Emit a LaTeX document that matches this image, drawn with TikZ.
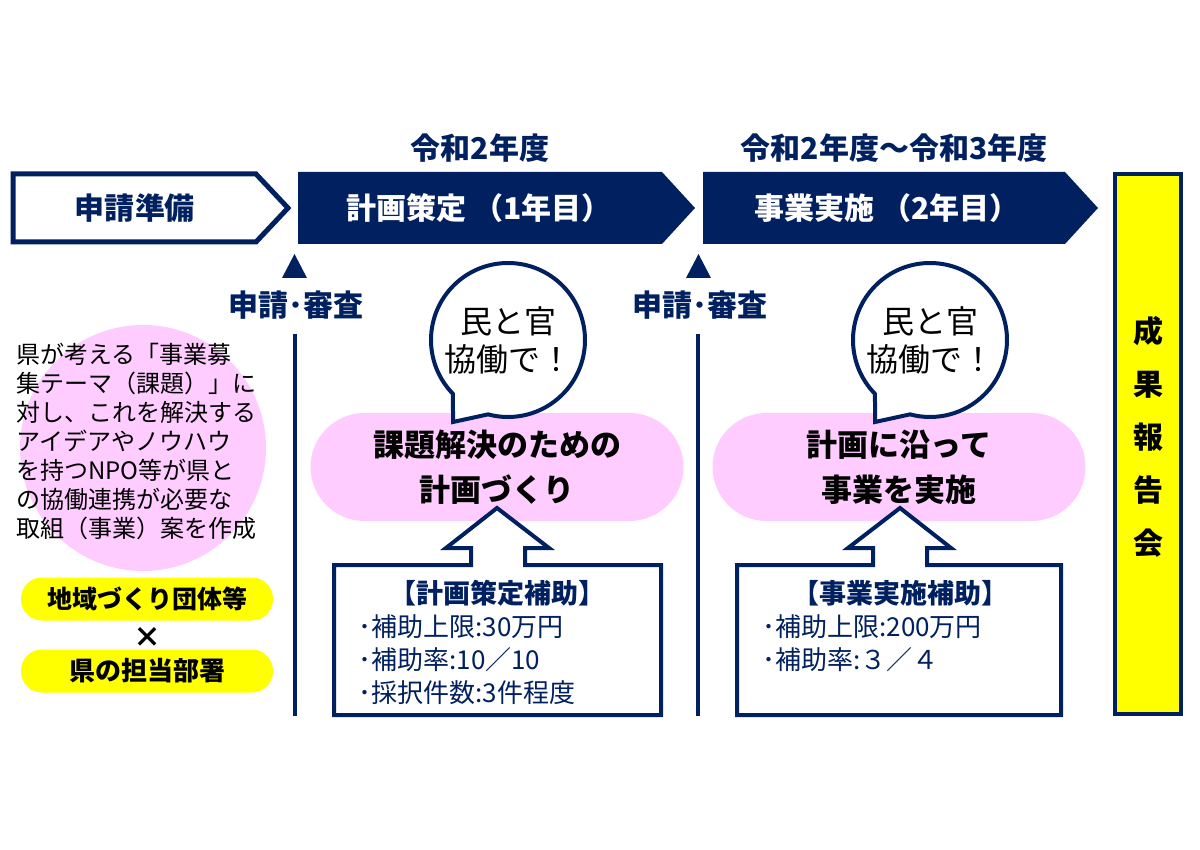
\documentclass[tikz,border=0pt]{standalone}
\usepackage{fontspec}
\setmainfont{Noto Sans CJK JP}
\usetikzlibrary{calc}
\definecolor{navy}{RGB}{0,32,96}
\definecolor{pinkfill}{RGB}{255,204,255}
\definecolor{signyellow}{RGB}{255,255,0}

\begin{document}
\begin{tikzpicture}[x=0.5pt, y=-0.5pt,
  navyline/.style={draw=navy, line width=2pt},
  phase/.style={font=\bfseries\fontsize{15}{18}\selectfont},
  period/.style={text=navy, font=\bfseries\fontsize{15}{18}\selectfont},
  review/.style={text=navy, font=\bfseries\fontsize{15}{18}\selectfont},
  pill/.style={fill=signyellow, rounded corners=10.5pt, minimum width=126pt, minimum height=21.5pt, font=\bfseries\fontsize{12.5}{15}\selectfont},
  goal/.style={fill=pinkfill, rounded corners=27pt, minimum width=186.5pt, minimum height=54pt, align=center, font=\bfseries\fontsize{15.5}{22.5}\selectfont},
  talk/.style={align=center, font=\fontsize{16}{19}\selectfont},
  aidhead/.style={text=navy, font=\bfseries\fontsize{13.5}{16}\selectfont},
  aiditem/.style={text=navy, anchor=west, inner sep=0pt, font=\fontsize{13}{15}\selectfont},
]
    % ================= Canvas =================
    \path[use as bounding box] (0,0) rectangle (1200,850);

    % ================= Phase arrows =================
    \draw[navyline, line width=2.5pt, fill=white] (13,174) -- (256,174) -- (288,208) -- (256,242) -- (13,242) -- cycle;
    \fill[navy] (298,172) -- (662,172) -- (695,208) -- (662,244) -- (298,244) -- cycle;
    \fill[navy] (703,172) -- (1065,172) -- (1098,208) -- (1065,244) -- (703,244) -- cycle;

    \node[phase, text=navy] (prep) at (135,208) {申請準備};
    \node[phase, text=white] (plan) at (479,208) {計画策定 （1年目）};
    \node[phase, text=white] (exec) at (887,208) {事業実施 （2年目）};

    \node[period] (year1) at (480,148) {令和2年度};
    \node[period] (year2) at (894,148) {令和2年度～令和3年度};

    % ================= Report box =================
    \draw[navyline, fill=signyellow] (1115,174) rectangle (1181,714);
    \node[align=center, font=\bfseries\fontsize{15}{26.5}\selectfont] (report) at (1148,437) {成\\果\\報\\告\\会};

    % ================= Application & review =================
    \fill[navy] (282,278) -- (307,278) -- (294.5,254) -- cycle;
    \fill[navy] (686,278) -- (711,278) -- (698.5,254) -- cycle;
    \node[review] (review1) at (296,305) {申請･審査};
    \node[review] (review2) at (700,305) {申請･審査};
    \draw[navyline] (295,334) -- (295,716);
    \draw[navyline] (698,334) -- (698,716);

    % ================= Left column =================
    \fill[pinkfill] (143,448) circle[radius=61.5pt];
    \node[anchor=north west, inner sep=0pt, align=left, font=\fontsize{12}{14.5}\selectfont] (theme) at (16,343)
      {県が考える「事業募\\集テーマ（課題）」に\\対し、これを解決する\\アイデアやノウハウ\\を持つNPO等が県と\\の協働連携が必要な\\取組（事業）案を作成};
    \node[pill] (group) at (147,599) {地域づくり団体等};
    \node[font=\bfseries\fontsize{14}{16}\selectfont] (cross) at (147,637) {×};
    \node[pill, font=\bfseries\fontsize{13}{15}\selectfont] (dept) at (147,671) {県の担当部署};

    % ================= Goals =================
    \node[goal] (goal1) at (497,467) {課題解決のための\\計画づくり};
    \node[goal] (goal2) at (899,467) {計画に沿って\\事業を実施};

    % ================= Speech bubbles =================
    \coordinate (b1) at (508,340);
    \coordinate (b2) at (930,340);
    \draw[navyline, fill=white] (453,422) -- ($(b1)+(224.4:38.5pt)$) arc[start angle=224.4, end angle=-105, radius=38.5pt] -- cycle;
    \draw[navyline, fill=white] (875,422) -- ($(b2)+(224.4:38.5pt)$) arc[start angle=224.4, end angle=-105, radius=38.5pt] -- cycle;
    \node[talk] (talk1) at (b1) {民と官\\協働で！};
    \node[talk] (talk2) at (b2) {民と官\\協働で！};

    % ================= Subsidy boxes =================
    \draw[navyline, fill=white] (334,715) -- (334,565) -- (471,565) -- (471,548) -- (446,548) -- (497,508)
      -- (549,548) -- (525,548) -- (525,565) -- (661,565) -- (661,715) -- cycle;
    \draw[navyline, fill=white] (737,715) -- (737,565) -- (873,565) -- (873,548) -- (848,548) -- (900,508)
      -- (951,548) -- (927,548) -- (927,565) -- (1061,565) -- (1061,715) -- cycle;

    \node[aidhead] (aid1) at (497,593) {【計画策定補助】};
    \node[aiditem] at (358,627) {･補助上限:30万円};
    \node[aiditem] at (358,660) {･補助率:10／10};
    \node[aiditem] at (358,693) {･採択件数:3件程度};

    \node[aidhead] (aid2) at (900,593) {【事業実施補助】};
    \node[aiditem] at (762,627) {･補助上限:200万円};
    \node[aiditem] at (762,660) {･補助率:３／４};
\end{tikzpicture}
\end{document}
